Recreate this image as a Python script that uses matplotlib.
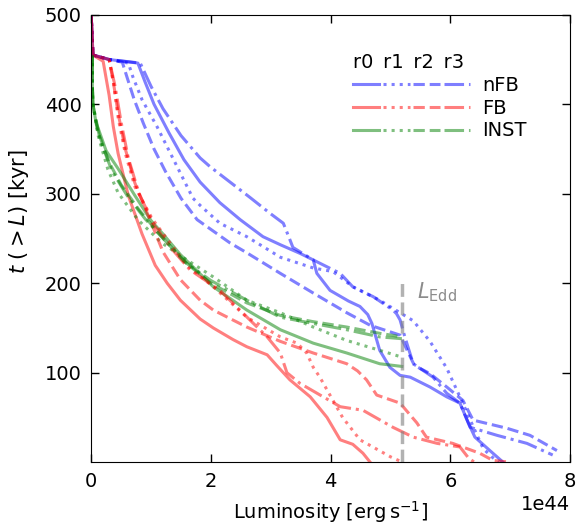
import numpy as np
import matplotlib.pyplot as plt
from matplotlib.lines import Line2D

# cumulative time above luminosity; L in units of 1e44 erg/s, t in kyr
nfb_r0_L = [0, 0.03, 0.3, 0.78, 0.9, 1.05, 1.3, 1.55, 1.82, 2.15, 2.49, 2.87, 3.16, 3.5, 3.71, 3.77,
            3.99, 4.3, 4.49, 4.62, 4.69, 4.82, 4.99, 5.16, 5.33, 5.66, 5.94, 6.16, 6.3, 6.41, 6.66, 6.88]
nfb_r0_t = [500, 455, 450, 446, 425, 400, 368, 338, 313, 290, 271, 252, 243, 233, 226, 211,
            192, 180, 174, 165, 155, 125, 106, 97, 95, 84, 73, 66, 44, 28, 13, 0]
nfb_r1_L = [0, 0.03, 0.3, 0.62, 0.7, 0.85, 1.1, 1.4, 1.7, 1.82, 2.15, 2.6, 2.87, 3.16, 3.71, 4.04,
            4.37, 4.82, 5.16, 5.38, 5.66, 5.94, 6.16, 6.38, 6.55, 6.71, 6.8]
nfb_r1_t = [500, 455, 450, 446, 430, 405, 375, 335, 295, 287, 267, 252, 241, 229, 217, 213,
            196, 181, 167, 158, 135, 105, 73, 40, 15, 5, 0]
nfb_r2_L = [0, 0.03, 0.3, 0.52, 0.6, 0.72, 0.87, 1.05, 1.24, 1.5, 1.77, 2.32, 2.6, 3.16, 3.71, 4.27,
            4.66, 5.16, 5.3, 5.4, 5.66, 5.94, 6.21, 6.38, 6.94, 7.33, 7.78]
nfb_r2_t = [500, 455, 450, 447, 430, 405, 379, 350, 325, 295, 271, 245, 234, 211, 189, 167,
            153, 142, 122, 108, 99, 84, 69, 47, 38, 30, 13]
nfb_r3_L = [0, 0.03, 0.3, 0.82, 1.0, 1.2, 1.5, 1.82, 1.99, 2.32, 2.65, 2.99, 3.21, 3.3, 3.37, 3.71,
            4.16, 4.37, 4.71, 5.04, 5.1, 5.16, 5.24, 5.38, 5.71, 5.94, 6.16, 6.33, 6.78, 7.28, 7.71]
nfb_r3_t = [500, 455, 450, 446, 420, 395, 365, 340, 330, 313, 296, 278, 267, 252, 240, 226,
            211, 196, 185, 170, 166, 159, 140, 110, 95, 77, 66, 39, 30, 21, 8]

fb_r0_L = [0, 0.03, 0.2, 0.3, 0.37, 0.45, 0.62, 0.85, 1.07, 1.27, 1.49, 1.82, 2.04, 2.37, 2.6, 2.94,
           3.1, 3.32, 3.66, 3.94, 4.16, 4.37, 4.54, 4.66]
fb_r0_t = [500, 455, 448, 410, 375, 345, 298, 255, 220, 200, 181, 160, 150, 137, 129, 120,
           108, 92, 73, 50, 25, 20, 10, 0]
fb_r1_L = [0, 0.03, 0.3, 0.37, 0.45, 0.57, 0.73, 1.02, 1.35, 1.6, 2.04, 2.6, 3.16, 3.44, 3.6, 3.71,
           3.82, 4.2, 4.49, 5.0, 5.2]
fb_r1_t = [500, 455, 450, 425, 385, 345, 308, 272, 242, 220, 196, 162, 140, 133, 122, 106,
           95, 50, 25, 6, 0]
fb_r2_L = [0, 0.03, 0.3, 0.37, 0.45, 0.57, 0.73, 1.0, 1.2, 1.49, 1.82, 2.04, 2.6, 3.16, 3.71, 4.27,
           4.45, 4.6, 4.77, 5.16, 5.44, 5.6, 6.04, 6.49, 6.71, 7.0]
fb_r2_t = [500, 455, 450, 425, 390, 350, 312, 268, 235, 204, 181, 170, 151, 135, 122, 110,
           102, 92, 75, 66, 44, 28, 21, 10, 2, 0]
fb_r3_L = [0, 0.03, 0.3, 0.4, 0.5, 0.62, 0.8, 1.05, 1.35, 1.65, 2.15, 2.65, 2.94, 3.16, 3.27, 3.49,
           4.16, 4.54, 5.04, 5.38, 5.78, 6.16, 6.3, 6.4]
fb_r3_t = [500, 455, 450, 420, 380, 340, 300, 265, 238, 215, 192, 159, 140, 122, 100, 88,
           62, 58, 39, 28, 21, 17, 5, 0]

inst_r0_L = [0.02, 0.02, 0.03, 0.08, 0.25, 0.45, 0.73, 1.0, 1.2, 1.49, 2.04, 2.6, 3.16, 3.71, 4.27, 4.82, 5.19]
inst_r0_t = [455, 420, 400, 380, 348, 328, 298, 270, 255, 232, 196, 170, 148, 133, 122, 110, 107]
inst_r1_L = [0.02, 0.02, 0.03, 0.12, 0.28, 0.45, 0.78, 1.18, 1.6, 2.04, 2.6, 3.16, 3.71, 4.27, 4.82, 5.16]
inst_r1_t = [455, 420, 400, 364, 327, 301, 271, 245, 226, 207, 181, 167, 151, 136, 125, 118]
inst_r2_L = [0.02, 0.02, 0.03, 0.1, 0.3, 0.5, 0.8, 1.1, 1.54, 2.0, 2.6, 3.16, 3.71, 4.27, 4.82, 5.19]
inst_r2_t = [455, 420, 400, 372, 335, 310, 282, 258, 225, 200, 178, 164, 157, 151, 144, 140]
inst_r3_L = [0.02, 0.02, 0.03, 0.15, 0.35, 0.6, 0.9, 1.2, 1.6, 2.0, 2.6, 3.16, 3.71, 4.27, 4.82, 5.19]
inst_r3_t = [455, 420, 400, 360, 325, 298, 272, 250, 222, 203, 181, 162, 155, 148, 140, 138]

L_edd = 5.2  # 1e44 erg/s

runs = ['r0', 'r1', 'r2', 'r3']
styles = ['-', ':', '--', '-.']
sim_names = ['nFB', 'FB', 'INST']
sim_colors = ['blue', 'red', 'green']
curves = {
    'nFB': [(nfb_r0_L, nfb_r0_t), (nfb_r1_L, nfb_r1_t), (nfb_r2_L, nfb_r2_t), (nfb_r3_L, nfb_r3_t)],
    'FB': [(fb_r0_L, fb_r0_t), (fb_r1_L, fb_r1_t), (fb_r2_L, fb_r2_t), (fb_r3_L, fb_r3_t)],
    'INST': [(inst_r0_L, inst_r0_t), (inst_r1_L, inst_r1_t), (inst_r2_L, inst_r2_t), (inst_r3_L, inst_r3_t)],
}

fig, ax = plt.subplots(figsize=(5.77, 5.27), dpi=100)
fig.subplots_adjust(left=0.158, right=0.988, bottom=0.123, top=0.972)

lw = 2.2
for i, r in enumerate(runs):
    for name, col in zip(sim_names, sim_colors):
        L, t = curves[name][i]
        ax.plot(np.array(L) * 1e44, t, ls=styles[i], color=col, lw=lw, alpha=0.5)

ax.plot([L_edd * 1e44, L_edd * 1e44], [0, 200], ls='--', color='grey', lw=2.5, alpha=0.6)
ax.text(5.45e44, 190, r'$L_{\rm Edd}$', color='grey', fontsize=15, va='center', alpha=0.9)

ax.set_xlim(0, 8e44)
ax.set_ylim(0, 500)
ax.set_yticks([100, 200, 300, 400, 500])
ax.set_xticks([0, 2e44, 4e44, 6e44, 8e44])
ax.tick_params(direction='in', top=True, right=True, length=6, width=1, labelsize=14, pad=7)
ax.xaxis.get_offset_text().set_fontsize(14)
ax.set_xlabel(r'Luminosity [$\mathrm{erg\,s^{-1}}$]', fontsize=14, labelpad=6)
ax.set_ylabel(r'$t\ (>L)$ [kyr]', fontsize=15)
ax.yaxis.set_label_coords(-0.125, 0.56)

# legend: one column per run, labels only on the last column
handles = []
labels = []
for i in range(4):
    for j, (name, col) in enumerate(zip(sim_names, sim_colors)):
        handles.append(Line2D([], [], ls=styles[i], color=col, lw=lw, alpha=0.5))
        labels.append(name if i == 3 else '')
leg = ax.legend(handles, labels, ncol=4, frameon=False, fontsize=14,
                title='r0\u2002r1\u2002r2\u2002r3', title_fontsize=14, alignment='left',
                handlelength=1.35, handletextpad=0.65, columnspacing=-0.45,
                labelspacing=0.2, borderpad=0, borderaxespad=0,
                loc='upper left', bbox_to_anchor=(0.547, 0.915))

plt.savefig('out.png')
